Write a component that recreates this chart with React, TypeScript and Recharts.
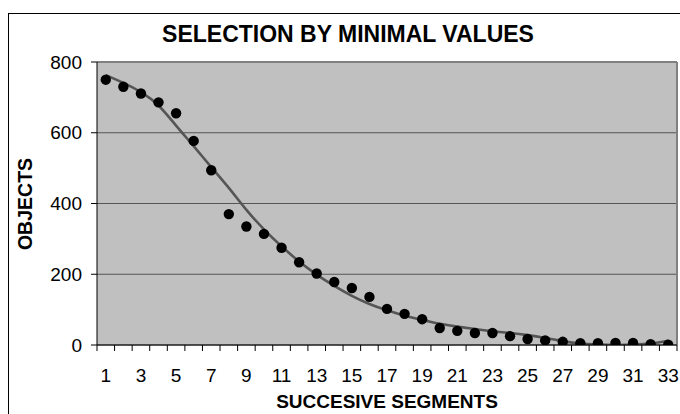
import { ComposedChart, Line, Scatter, XAxis, YAxis, CartesianGrid, ReferenceLine } from "recharts"

const segments = [1, 2, 3, 4, 5, 6, 7, 8, 9, 10, 11, 12, 13, 14, 15, 16, 17, 18, 19, 20, 21, 22, 23, 24, 25, 26, 27, 28, 29, 30, 31, 32, 33]
const objects = [750, 730, 711, 686, 655, 577, 494, 370, 335, 314, 275, 234, 202, 178, 161, 136, 102, 88, 73, 48, 40, 34, 34, 25, 17, 13, 9, 5, 5, 6, 6, 2, 1]
const trend = [763, 741, 715, 677, 620, 562, 503, 444, 382, 327, 279, 236, 199, 167, 139, 116, 98, 83, 71, 60, 52, 45, 39, 34, 28, 20, 11, 4, 1, 0, 1, 4, 12]
const yTicks = [0, 200, 400, 600, 800]

const data = segments.map((s, i) => ({ x: s, obs: objects[i], trend: trend[i] }))

// tick marks sit between categories, labels on every other category
const xTicks: number[] = []
for (let v = 0.5; v <= 33.5; v += 0.5) xTicks.push(v)

const font = "'Liberation Sans', Arial, sans-serif"

function XTick(props: any) {
  const { x, y, payload } = props
  const v = payload.value
  if (!Number.isInteger(v)) {
    return <line x1={x} y1={y} x2={x} y2={y + 6} stroke="#000" strokeWidth={1} />
  }
  if (v % 2 === 1) {
    return (
      <text x={x} y={y + 37} textAnchor="middle" fill="#000" fontSize={19} fontFamily={font}>
        {v}
      </text>
    )
  }
  return <g />
}

export default function App() {
  return (
    <div style={{ position: "absolute", left: 0, top: 0, width: 680, height: 414, overflow: "hidden", background: "#fff", fontFamily: font }}>
      <div style={{ position: "absolute", left: 8, top: 13, width: 700, height: 430, border: "1.5px solid #000" }} />
      <div style={{ position: "absolute", left: 0, width: 696, top: 20, textAlign: "center", fontSize: 23, fontWeight: "bold", lineHeight: "28px" }}>
        SELECTION BY MINIMAL VALUES
      </div>
      <div style={{ position: "absolute", left: 25, top: 204, transform: "translate(-50%, -50%) rotate(-90deg)", fontSize: 19.5, fontWeight: "bold", whiteSpace: "nowrap", lineHeight: "22px" }}>
        OBJECTS
      </div>
      <div style={{ position: "absolute", left: 387, top: 402, transform: "translate(-50%, -50%)", fontSize: 19, fontWeight: "bold", whiteSpace: "nowrap", lineHeight: "22px" }}>
        SUCCESIVE SEGMENTS
      </div>
      <div style={{ position: "absolute", left: 0, top: 0 }}>
        <ComposedChart width={680} height={414} data={data} margin={{ top: 62, right: 3, bottom: 39, left: 0 }}>
          <CartesianGrid vertical={false} stroke="#555" fill="#c0c0c0" fillOpacity={1} />
          <XAxis
            dataKey="x"
            type="number"
            domain={[0.5, 33.5]}
            ticks={xTicks}
            interval={0}
            tickSize={0}
            tickMargin={0}
            tickLine={false}
            axisLine={{ stroke: "#000" }}
            tick={<XTick />}
            height={30}
            allowDataOverflow
          />
          <YAxis
            type="number"
            domain={[0, 800]}
            ticks={yTicks}
            interval={0}
            width={97}
            tickSize={6}
            tickMargin={9}
            tickLine={{ stroke: "#000" }}
            axisLine={{ stroke: "#000" }}
            tick={{ fill: "#000", fontSize: 19, fontFamily: font }}
            allowDataOverflow
          />
          <ReferenceLine y={800} stroke="#808080" strokeWidth={2} />
          <ReferenceLine x={33.5} stroke="#808080" strokeWidth={2} />
          <Scatter
            dataKey="obs"
            isAnimationActive={false}
            shape={(p: any) => <circle cx={p.cx} cy={p.cy} r={5.2} fill="#000" />}
          />
          <Line
            dataKey="trend"
            type="natural"
            stroke="#555"
            strokeWidth={2.6}
            dot={false}
            activeDot={false}
            isAnimationActive={false}
          />
        </ComposedChart>
      </div>
    </div>
  )
}
